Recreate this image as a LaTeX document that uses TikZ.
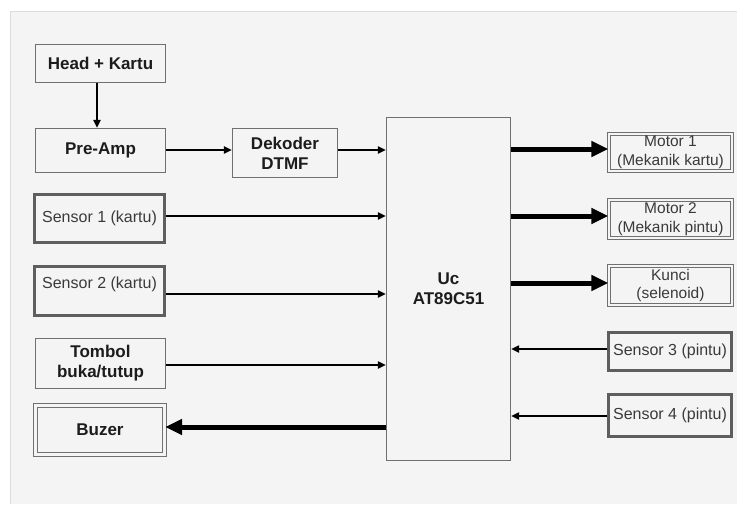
\documentclass[tikz,border=0pt]{standalone}
\usepackage{fontspec}
\setmainfont{Liberation Sans}
\usetikzlibrary{arrows.meta}
\definecolor{bg}{HTML}{F4F4F4}
\definecolor{bd}{HTML}{707070}
\definecolor{bdk}{HTML}{5E5E5E}
\definecolor{tx}{HTML}{1C1C1C}
\definecolor{tl}{HTML}{3A3A3A}
\definecolor{frame}{HTML}{DCDCDC}
\tikzset{
  box/.style={draw=bd, line width=1.3pt, fill=bg, inner sep=0pt, align=center,
    text=tx, font=\fontsize{17}{20}\selectfont\bfseries},
  sbox/.style={draw=bdk, line width=3pt, fill=bg, inner sep=0pt, align=center,
    text=tl, font=\fontsize{16}{19}\selectfont},
  dbox/.style={draw=bd, line width=1.2pt, double=bg, double distance=2.2pt,
    fill=bg, inner sep=0pt, align=center, text=tl, font=\fontsize{15.5}{18.5}\selectfont},
  thinarrow/.style={draw=black, line width=2pt, -{Triangle[length=8pt,width=7pt]}},
  thickarrow/.style={draw=black, line width=5pt, -{Triangle[length=17pt,width=15pt]}}
}
\begin{document}
\begin{tikzpicture}[x=1pt,y=-1pt]
\useasboundingbox (0,0) rectangle (737,504);
\fill[white] (0,0) rectangle (737,504);
\fill[bg] (10,11) rectangle (737,504);
\draw[frame, line width=0.8pt] (10,504) -- (10,11) -- (737,11);

% left column
\node[box, minimum width=130pt, minimum height=38pt] (head) at (100.5,63.5) {Head + Kartu};
\node[box, minimum width=130pt, minimum height=44pt] (pre) at (100.5,150.5) {Pre-Amp};
\node[sbox, minimum width=130pt, minimum height=48pt] (s1) at (99.5,218.5) {Sensor 1 (kartu)};
\node[sbox, minimum width=130pt, minimum height=49pt, text height=11.5pt, text depth=16.5pt] (s2) at (99.5,291) {Sensor 2 (kartu)};
\node[box, minimum width=130pt, minimum height=50pt] (tom) at (100.5,363.5) {Tombol\\buka/tutup};
\node[dbox, font=\fontsize{17}{20}\selectfont\bfseries, text=tx, minimum width=129pt, minimum height=49pt] (buz) at (100,430) {Buzer};

% middle
\node[box, minimum width=105pt, minimum height=49pt] (dek) at (285,153) {Dekoder\\DTMF};
\node[box, minimum width=124pt, minimum height=343pt] (uc) at (448.5,289) {Uc\\AT89C51};

% right column
\node[dbox, minimum width=123pt, minimum height=37pt] (m1) at (670.5,152.5) {Motor 1\\(Mekanik kartu)};
\node[dbox, minimum width=123pt, minimum height=38pt] (m2) at (670.5,219) {Motor 2\\(Mekanik pintu)};
\node[dbox, minimum width=123pt, minimum height=39pt] (kun) at (670.5,285.5) {Kunci\\(selenoid)};
\node[sbox, minimum width=123pt, minimum height=38pt] (s3) at (670,351.5) {Sensor 3 (pintu)};
\node[sbox, minimum width=123pt, minimum height=42pt] (s4) at (670,415.5) {Sensor 4 (pintu)};

% connector heights
\coordinate (xh) at (97,0);
\coordinate (ya) at (0,150);
\coordinate (ys1) at (0,216);
\coordinate (ys2) at (0,294);
\coordinate (yt) at (0,365);
\coordinate (yb) at (0,427);
\coordinate (ym1) at (0,149);
\coordinate (ym2) at (0,216);
\coordinate (yk) at (0,283);
\coordinate (ys3) at (0,349);
\coordinate (ys4) at (0,416);

% connectors
\draw[thinarrow] (head.south -| xh) -- (pre.north -| xh);
\draw[thinarrow] (pre.east |- ya) -- (dek.west |- ya);
\draw[thinarrow] (dek.east |- ya) -- (uc.west |- ya);
\draw[thinarrow] (s1.east |- ys1) -- (uc.west |- ys1);
\draw[thinarrow] (s2.east |- ys2) -- (uc.west |- ys2);
\draw[thinarrow] (tom.east |- yt) -- (uc.west |- yt);
\draw[thickarrow] (uc.west |- yb) -- (buz.east |- yb);
\draw[thickarrow] (uc.east |- ym1) -- (m1.west |- ym1);
\draw[thickarrow] (uc.east |- ym2) -- (m2.west |- ym2);
\draw[thickarrow] (uc.east |- yk) -- (kun.west |- yk);
\draw[thinarrow] (s3.west |- ys3) -- (uc.east |- ys3);
\draw[thinarrow] (s4.west |- ys4) -- (uc.east |- ys4);
\end{tikzpicture}
\end{document}
